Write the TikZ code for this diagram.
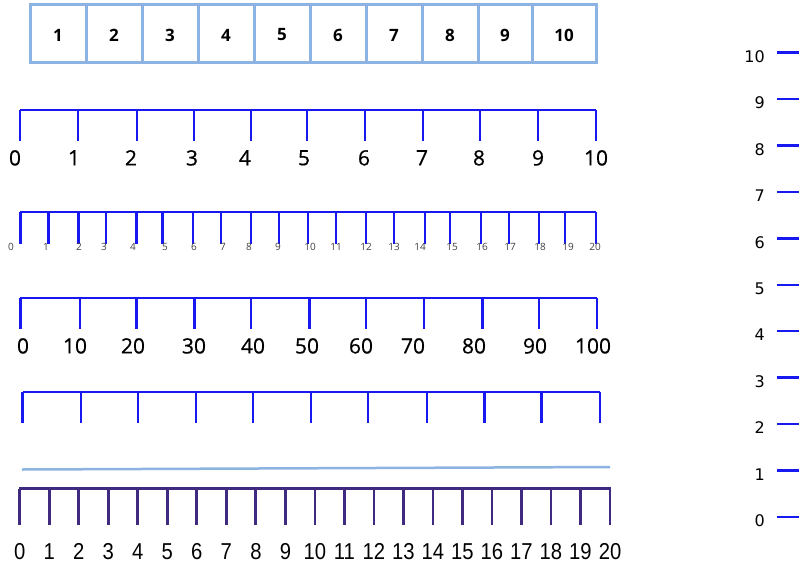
\documentclass[tikz,border=0pt]{standalone}
\usepackage{fontspec}
\setmainfont{Open Sans}
\newfontfamily\narrowfont{Liberation Sans}
\newfontfamily\tahfont{DejaVu Sans}
\newfontfamily\bigfont[FakeBold=0.6]{Open Sans}
\definecolor{lblue}{HTML}{8DB3E2}
\definecolor{nblue}{HTML}{1818F0}
\definecolor{purp}{HTML}{3F2A7F}
\begin{document}
\begin{tikzpicture}[x=1pt,y=-1pt,
  bluel/.style={draw=nblue,line width=2.8pt},
  purl/.style={draw=purp,line width=2.8pt},
  boxlab/.style={font=\fontsize{17}{17}\selectfont\bfseries,inner sep=0pt},
  biglab/.style={font=\bigfont\fontsize{21}{21}\selectfont,inner sep=0pt,anchor=north},
  smalllab/.style={font=\fontsize{10}{10}\selectfont,text=black!75,inner sep=0pt,anchor=north},
  narlab/.style={font=\narrowfont\fontsize{23}{23}\selectfont,inner sep=0pt,anchor=north,xscale=0.88},
  vlab/.style={font=\tahfont\fontsize{16}{16}\selectfont,inner sep=0pt,anchor=east}]
\useasboundingbox (0,0) rectangle (799,567);
% boxes
\draw[lblue,line width=3pt] (30,5) rectangle (596,63);
\foreach \x in {86,142,198,254,310,366,422,478,532} \draw[lblue,line width=3pt] (\x,5) -- (\x,63);
\foreach \i/\c in {1/58,2/114,3/170,4/226,5/282,6/338,7/394,8/450,9/505,10/564}
  \node[boxlab] (b\i) at (\c,35) {\i};
% 0..10 line
\draw[bluel] (20,110) -- (596,110);
\foreach \x in {20,78,137,194,251,307,365,423,480,538,596} \draw[bluel] (\x,110) -- (\x,141);
\foreach \i/\c in {0/15,1/74,2/131,3/192,4/245,5/304,6/364,7/422,8/479,9/538,10/596}
  \node[biglab] (a\i) at (\c,150) {\i};
% 0..20 small
\draw[bluel] (20,212) -- (596,212);
\foreach \x in {20.6,48.4,78.6,106,136.5,162.7,193,221,251,279,308,336,366,394,425,450,481,509,539,565,596}
  \draw[bluel] (\x,212) -- (\x,244);
\foreach \i/\c in {0/11,1/46,2/79,3/104,4/133,5/165,6/194,7/223,8/249,9/278,10/310,11/336,12/366,13/394,14/420,15/452,16/482,17/510,18/540,19/568,20/595}
  \node[smalllab] (s\i) at (\c,243) {\i};
% 0..100
\draw[bluel] (20,298) -- (597,298);
\foreach \x in {20.6,80,136.5,194.4,251,309.5,366,424,482.5,539,597} \draw[bluel] (\x,298) -- (\x,329);
\foreach \i/\c in {0/23,10/75,20/133,30/194,40/253,50/307,60/361,70/413,80/474,90/535,100/593}
  \node[biglab] (h\i) at (\c,338) {\i};
% blank
\draw[bluel] (22.6,392) -- (600,392);
\foreach \x in {22.6,81,138,196,253,311,368,427,484.5,541.7,600} \draw[bluel] (\x,392) -- (\x,423);
% light line
\draw[lblue,line width=2.5pt] (22,469.5) -- (610,467);
% purple
\draw[purl,line width=3.5pt] (19,488.7) -- (611,488.7);
\foreach \i in {0,...,20} {
  \pgfmathsetmacro{\xx}{19.8+\i*29.51}
  \draw[purl] (\xx,488.7) -- (\xx,525);
  \node[narlab] (p\i) at (\xx,543) {\i};
}
% vertical scale
\foreach \i in {0,...,10} {
  \pgfmathsetmacro{\yy}{516.7-\i*46.4}
  \draw[draw=nblue,line width=2.4pt] (777,\yy) -- (799,\yy);
  \node[vlab] (v\i) at (765,\yy+4) {\i};
}
\end{tikzpicture}
\end{document}
